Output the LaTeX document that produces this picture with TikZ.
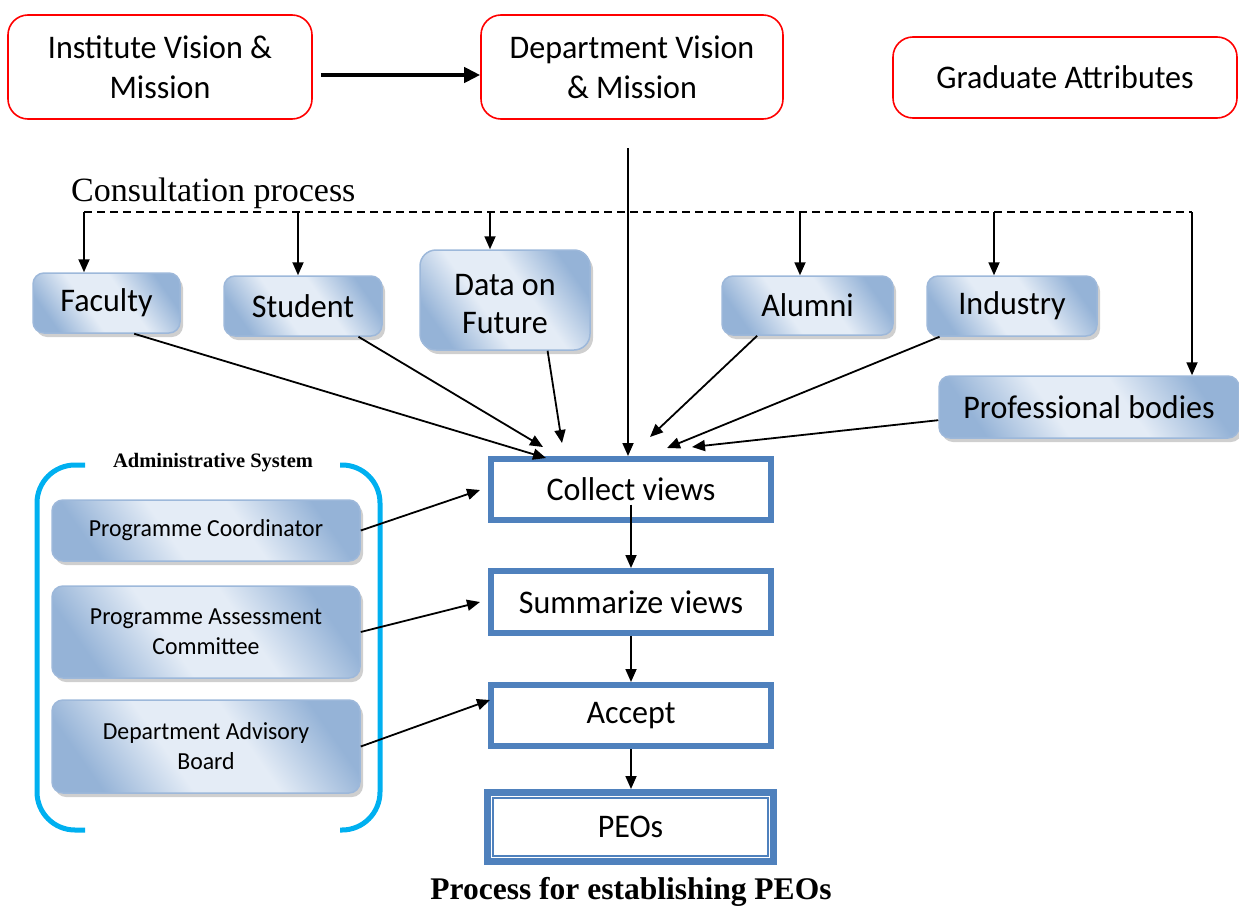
\documentclass[tikz,border=0pt]{standalone}
\usepackage{fontspec}
\setmainfont{Liberation Serif}
\newfontfamily\cf[FakeStretch=0.97]{Carlito}
\usetikzlibrary{arrows.meta,shadows,calc}
\definecolor{redb}{HTML}{FF0000}
\definecolor{bdark}{HTML}{95B3D7}
\definecolor{blight}{HTML}{E4ECF6}
\definecolor{bedge}{HTML}{9DB8DA}
\definecolor{chainb}{HTML}{4F81BD}
\definecolor{cyanb}{HTML}{00B0F0}
\pgfdeclareverticalshading{bshade}{100bp}{color(0bp)=(bdark); color(25bp)=(bdark); color(42bp)=(blight); color(58bp)=(blight); color(75bp)=(bdark); color(100bp)=(bdark)}
\tikzset{
  redbox/.style={draw=redb, line width=1.6pt, rounded corners=20pt, fill=white, align=center,
    font=\cf\fontsize{33}{40}\selectfont, inner sep=0pt},
  bluebox/.style={draw=bedge, line width=1.5pt, rounded corners=11pt, align=center,
    shading=bshade, shading angle=-55,
    drop shadow={shadow xshift=3pt, shadow yshift=-4pt, fill=gray!75},
    font=\cf\fontsize{33}{40}\selectfont, inner sep=0pt},
  adminbox/.style={bluebox, font=\cf\fontsize{24.5}{30}\selectfont},
  chainbox/.style={draw=chainb, line width=6pt, fill=white, align=center, inner sep=0pt,
    minimum width=280pt, font=\cf\fontsize{33}{40}\selectfont},
  conn/.style={line width=1.8pt, -{Triangle[length=13pt,width=11pt]}},
  bracket/.style={draw=cyanb, line width=5pt, rounded corners=38pt},
}
\begin{document}
\begin{tikzpicture}[x=1pt,y=-1pt]
\useasboundingbox (0,0) rectangle (1239,907);
% top red boxes
\node[redbox, minimum width=304pt, minimum height=104pt] (inst) at (160,67) {Institute Vision \&\\Mission};
\node[redbox, minimum width=302pt, minimum height=104pt] (dept) at (632,67) {Department Vision\\\& Mission};
\node[redbox, minimum width=344pt, minimum height=81pt] (grad) at (1065,77.5) {Graduate Attributes};
\draw[line width=4pt, -{Triangle[length=16pt,width=15pt]}] ([xshift=8pt,yshift=-8pt]inst.east) -- ([yshift=-8pt]dept.west);

% consultation
\node[anchor=west, font=\fontsize{34}{40}\selectfont, inner sep=0pt] (cons) at (71,193) {Consultation process};
\coordinate (d1) at (84,212);
\coordinate (d2) at (298,212);
\coordinate (d3) at (490,212);
\coordinate (d4) at (800,212);
\coordinate (d5) at (994,212);
\coordinate (d6) at (1192,212);
\draw[line width=1.5pt, dash pattern=on 8pt off 5pt] (d1) -- (d6);

% blue boxes
\node[bluebox, minimum width=147pt, minimum height=60pt] (faculty) at (106.5,303) {Faculty};
\node[bluebox, minimum width=158pt, minimum height=60pt] (student) at (303,306) {Student};
\node[bluebox, rounded corners=16pt, minimum width=170pt, minimum height=100pt] (data) at (505,300) {\raisebox{-6pt}[\height][\depth]{\begin{tabular}{@{}c@{}}Data on\\[-2pt]Future\end{tabular}}};
\node[bluebox, minimum width=171pt, minimum height=59pt] (alumni) at (807.5,305.5) {Alumni};
\node[bluebox, minimum width=170pt, minimum height=60pt] (industry) at (1012,306) {Industry};
\node[bluebox, minimum width=300pt, minimum height=62pt] (prof) at (1089,407) {Professional bodies};

\draw[conn] (d1) -- (d1 |- faculty.north);
\draw[conn] (d2) -- (d2 |- student.north);
\draw[conn] (d3) -- (d3 |- data.north);
\draw[conn] (d4) -- (d4 |- alumni.north);
\draw[conn] (d5) -- (d5 |- industry.north);
\draw[conn] (d6) -- (d6 |- prof.north);

% chain
\node[chainbox, minimum height=61pt] (collect) at (631,489.5) {Collect views};
\node[chainbox, minimum height=62pt] (summ) at (631,602) {Summarize views};
\node[chainbox, minimum height=61pt] (accept) at (631,715.5) {Accept};
\node[chainbox, minimum width=286pt, minimum height=69pt, line width=7pt] (peos) at (630.5,827) {PEOs};
\draw[chainb, line width=1.8pt] ([shift={(9pt,9pt)}]peos.south west) rectangle ([shift={(-9pt,-9pt)}]peos.north east);

\coordinate (dstart) at (628,148);
\draw[conn] (dstart) -- (dstart |- collect.north);

\coordinate (tfac) at (546,458);
\coordinate (tstu) at (543,447);
\coordinate (tdat) at (562,443);
\coordinate (talu) at (650,437);
\coordinate (tind) at (667,448);
\coordinate (tpro) at (692,447);
\draw[conn] (faculty.-48) -- (tfac);
\draw[conn] (student.-29) -- (tstu);
\draw[conn] (data.-50) -- (tdat);
\draw[conn] (alumni.-149) -- (talu);
\draw[conn] (industry.-157) -- (tind);
\draw[conn] (prof.-175) -- (tpro);

\draw[conn] ([yshift=-15pt]collect.center) -- (summ.north);
\draw[conn] (summ.south) -- (accept.north);
\draw[conn] (accept.south) -- (accept.south |- peos.north);

% administrative system
\draw[bracket] (85,465) -- (37,465) -- (37,830) -- (85,830);
\draw[bracket] (340,465) -- (380,465) -- (380,830) -- (340,830);
\node[font=\bfseries\fontsize{20.5}{24}\selectfont, inner sep=0pt] (admin) at (213,463) {Administrative System};
\node[adminbox, minimum width=308pt, minimum height=61pt] (pc) at (206,530.5) {Programme Coordinator};
\node[adminbox, minimum width=308pt, minimum height=92pt] (pac) at (206,632) {Programme Assessment\\Committee};
\node[adminbox, minimum width=308pt, minimum height=93pt] (dab) at (206,746.5) {Department Advisory\\Board};
\coordinate (tpc) at (480,490);
\coordinate (tpac) at (480,602);
\coordinate (tdab) at (490,700);
\draw[conn] (pc.east) -- (tpc);
\draw[conn] (pac.east) -- (tpac);
\draw[conn] (dab.east) -- (tdab);

% caption
\node[font=\bfseries\fontsize{31.5}{36}\selectfont, inner sep=0pt] (cap) at (631,892) {Process for establishing PEOs};
\end{tikzpicture}
\end{document}
